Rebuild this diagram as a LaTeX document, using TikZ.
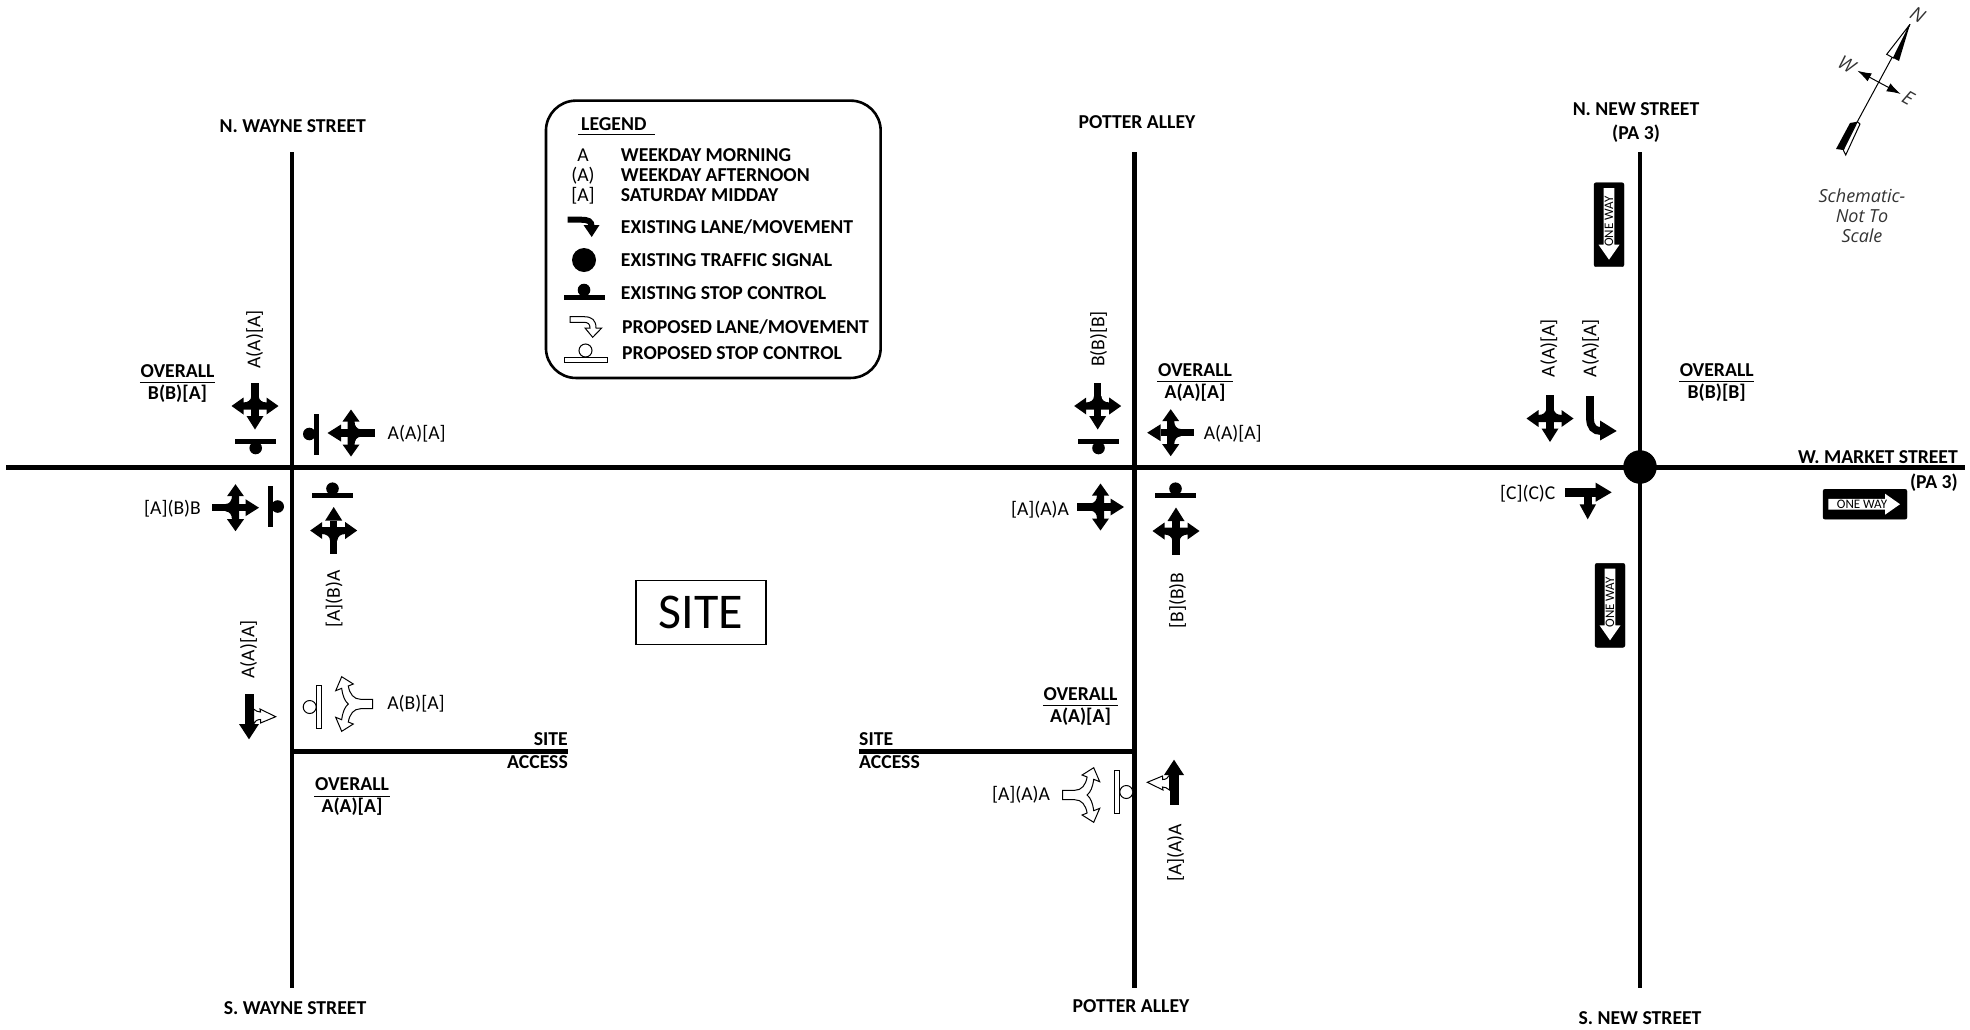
\documentclass[tikz,border=0pt]{standalone}
\usepackage{fontspec}
\setmainfont{Carlito}
\newfontfamily\schemfont{Open Sans}
\usepackage{tikz}
\usetikzlibrary{arrows.meta,positioning,shapes}

\newcommand{\overallbox}[4]{%
  \node[ovtop] (#1t) at (#2,#3-11) {OVERALL};
  \node[ovbot] (#1b) at (#2,#3+11) {#4};
  \draw[ovrule] ([yshift=-5pt]#1t.south west) -- ([yshift=-5pt]#1t.south east);
}

\tikzset{
  fourway/.pic={
    \fill (-3.7,-23.5) rectangle (3.7,10);
    \fill (-8.5,10) -- (8.5,10) -- (0,23.5) -- cycle;
    \fill (-23.5,0) -- (-11.5,-8.5) -- (-11.5,8.5) -- cycle;
    \fill (23.5,0) -- (11.5,-8.5) -- (11.5,8.5) -- cycle;
    \fill (-12,-3.5) .. controls (-7,-3.5) and (-3.7,-6) .. (-3.7,-10) -- (3.7,-10)
      .. controls (3.7,-6) and (7,-3.5) .. (12,-3.5) -- (12,3.5) -- (-12,3.5) -- cycle;
  },
  stopctl/.pic={
    \fill (-20.5,-2.5) rectangle (20.5,2.5);
    \fill (0,7) circle (6.3);
  },
  propstop/.pic={
    \draw[prop] (0,9.5) circle (6.5);
    \filldraw[prop] (-21.5,-2.5) rectangle (21.5,2.5);
  },
  propsplit/.pic={
    \filldraw[prop] (16,-4.7) -- (4,-4.7) .. controls (-3,-4.7) and (-7,-10) .. (-8.4,-18)
      -- (-3.4,-20) -- (-15,-27.3) -- (-21,-13.3) -- (-15,-15.7)
      .. controls (-14,-8) and (-12,-3) .. (-8.4,0)
      .. controls (-12,3) and (-14,8) .. (-15,15.7) -- (-21,13.3) -- (-15,27.3)
      -- (-3.4,20) -- (-8.4,18) .. controls (-7,10) and (-3,4.7) .. (4,4.7) -- (16,4.7) -- cycle;
  },
  thruprop/.pic={
    \filldraw[prop] (4.5,-7) .. controls (7,-5) and (9,-4) .. (11.5,-4) -- (11,-7)
      -- (26.7,0.7) -- (11.5,7) -- (11.5,3.5) .. controls (8,3.5) and (6,5) .. (4.5,8) -- cycle;
    \fill (-4.5,-22) rectangle (4.5,8);
    \fill (-10,8) -- (10,8) -- (0,23.3) -- cycle;
  },
  onewaysign/.pic={
    \filldraw[draw=black,fill=black,rounded corners=2pt] (-15,-42) rectangle (15,42);
    \fill[white] (-5.4,-36.7) -- (5.4,-36.7) -- (5.4,20) -- (10.5,20) -- (0,35) -- (-10.5,20) -- (-5.4,20) -- cycle;
    \node[signtext,rotate=#1] (-onew) at (0,-3) {ONE WAY};
  }
}

\begin{document}
\begin{tikzpicture}[
    x=1pt,y=-1pt,
    road/.style={line width=4.6pt},
    prop/.style={draw=black,fill=white,line width=1pt},
    lab/.style={inner sep=0,text height=12.6pt,text depth=0pt,font=\fontsize{19.6}{21}\selectfont},
    rlab/.style={lab,rotate=90},
    bold/.style={lab,font=\fontsize{19.7}{21}\selectfont\bfseries},
    legendtext/.style={bold,anchor=west},
    legendkey/.style={lab},
    ovtop/.style={bold,minimum width=75pt},
    ovbot/.style={bold},
    ovrule/.style={line width=1pt},
    signtext/.style={inner sep=0,font=\fontsize{13}{14}\selectfont},
    compasstext/.style={inner sep=0,font=\schemfont\itshape\fontsize{19}{21}\selectfont,text=black!80}
  ]
  \path[use as bounding box] (0,0) rectangle (1970,1029);

  %roads
  \coordinate (wayneN) at (292,152);
  \coordinate (wayneS) at (292,988);
  \coordinate (potterN) at (1134.7,152);
  \coordinate (potterS) at (1134.7,988);
  \coordinate (newN) at (1640,152);
  \coordinate (newS) at (1640,988);
  \coordinate (marketW) at (6,467.5);
  \coordinate (marketE) at (1965,467.5);
  \coordinate (accessL) at (568,751.7);
  \coordinate (accessR) at (859,751.7);
  \draw[road] (wayneN) -- (wayneS);
  \draw[road] (potterN) -- (potterS);
  \draw[road] (newN) -- (newS);
  \draw[road] (marketW) -- (marketE);
  \draw[road] (wayneS |- accessL) -- (accessL);
  \draw[road] (accessR) -- (potterS |- accessR);
  \node[circle,fill=black,minimum size=33.5pt,inner sep=0] (signal) at (1640,467) {};

  %street names
  \node[bold] (nwayne) at (292.7,126) {N. WAYNE STREET};
  \node[bold] (swayne) at (295,1008) {S. WAYNE STREET};
  \node[bold] (npotter) at (1137,122) {POTTER ALLEY};
  \node[bold] (spotter) at (1131,1006.5) {POTTER ALLEY};
  \node[bold] (nnew) at (1636,109.5) {N. NEW STREET};
  \node[bold] (nnewb) at (1636,133.5) {(PA 3)};
  \node[bold] (snew) at (1640,1018.5) {S. NEW STREET};
  \node[bold,anchor=east] (market) at (1958,457) {W. MARKET STREET};
  \node[bold,anchor=east] (marketb) at (1958,481.7) {(PA 3)};
  \node[bold,anchor=east] (siteL) at (568,739) {SITE};
  \node[bold,anchor=east] (accL) at (568,762) {ACCESS};
  \node[bold,anchor=west] (siteR) at (859,739) {SITE};
  \node[bold,anchor=west] (accR) at (859,762.5) {ACCESS};

  \node[draw,line width=1.3pt,minimum width=130pt,minimum height=64pt,inner sep=0,font=\fontsize{50}{52}\selectfont] (site) at (701,612.5) {SITE};

  %legend
  \node[draw,line width=2.6pt,rounded corners=30pt,minimum width=334.7pt,minimum height=277.3pt,inner sep=0] (legend) at (713.3,239.3) {};
  \node[bold,anchor=west] (lgdtitle) at (581,124) {LEGEND};
  \draw[line width=1.6pt] ([shift={(-3,4)}]lgdtitle.south west) -- ([shift={(8,4)}]lgdtitle.south east);
  \node[legendkey] (keya) at (583,155) {A};
  \node[legendkey] (keyb) at (583,175) {(A)};
  \node[legendkey] (keyc) at (583,195) {[A]};
  \node[legendtext] (lgdam) at (620.7,155) {WEEKDAY MORNING};
  \node[legendtext] (lgdpm) at (620.7,175) {WEEKDAY AFTERNOON};
  \node[legendtext] (lgdsat) at (620.7,195) {SATURDAY MIDDAY};
  \node[legendtext] (lgdlane) at (620.7,227) {EXISTING LANE/MOVEMENT};
  \node[legendtext] (lgdsig) at (620.7,260) {EXISTING TRAFFIC SIGNAL};
  \node[legendtext] (lgdstop) at (620.7,293) {EXISTING STOP CONTROL};
  \node[legendtext] (lgdplane) at (622,327) {PROPOSED LANE/MOVEMENT};
  \node[legendtext] (lgdpstop) at (622,353.5) {PROPOSED STOP CONTROL};
  \draw[line width=6pt] (567.7,219.7) -- (581,219.7) .. controls (588,219.7) and (591.7,221) .. (591.7,227);
  \fill (583.5,225) -- (599.5,225) -- (591.7,237) -- cycle;
  \fill (584,260) circle (12);
  \pic[rotate=180] at (584,297) {stopctl};
  \filldraw[prop] (570,316.7) -- (584,316.7) .. controls (592,316.7) and (596,320) .. (596,328)
    -- (601.7,328) -- (592.7,337.3) -- (585,328) -- (590,328) .. controls (590,324) and (588,322.3) .. (584,322.3)
    -- (570,322.3) -- cycle;
  \pic[rotate=180] at (585.5,360) {propstop};

  %n wayne intersection
  \pic at (255,406) {fourway};
  \pic[rotate=-90] at (351,433) {fourway};
  \pic[rotate=90] at (235.5,507.7) {fourway};
  \pic[rotate=180] at (333.7,530.5) {fourway};
  \pic at (255.7,441) {stopctl};
  \pic[rotate=-90] at (316.3,434) {stopctl};
  \pic[rotate=90] at (270.7,506.5) {stopctl};
  \pic[rotate=180] at (332.5,495.7) {stopctl};
  \node[rlab] (waynesb) at (254,339.5) {A(A)[A]};
  \node[lab] (waynewb) at (416.7,433) {A(A)[A]};
  \node[lab] (wayneeb) at (172.5,508) {[A](B)B};
  \node[rlab] (waynenb) at (333.5,599) {[A](B)A};
  \overallbox{ovwayne}{177.5}{381.7}{B(B)[A]}

  %potter intersection
  \pic at (1097.7,406) {fourway};
  \pic[rotate=-90] at (1170.7,432.7) {fourway};
  \pic[rotate=90] at (1100.5,507) {fourway};
  \pic[rotate=180] at (1176,531) {fourway};
  \pic at (1098.5,441) {stopctl};
  \pic[rotate=180] at (1175.5,495.7) {stopctl};
  \node[rlab] (pottersb) at (1098,339) {B(B)[B]};
  \node[lab] (potterwb) at (1232.7,432.7) {A(A)[A]};
  \node[lab] (pottereb) at (1040,509) {[A](A)A};
  \node[rlab] (potternb) at (1177,600.5) {[B](B)B};
  \overallbox{ovpotter}{1195}{381}{A(A)[A]}

  %new street intersection
  \pic at (1550,418.5) {fourway};
  \draw[line width=7.8pt] (1590,396) -- (1590,418) .. controls (1590,427) and (1594,431) .. (1601,431);
  \fill (1600,420.5) -- (1616.7,431) -- (1600,440.5) -- cycle;
  \fill (1565,488.2) rectangle (1596,496.5);
  \fill (1595.7,482.7) -- (1611.7,492.3) -- (1595.7,501.7) -- cycle;
  \fill (1584,495) rectangle (1591.6,505);
  \fill (1579.5,504.3) -- (1596,504.3) -- (1587.7,519.3) -- cycle;
  \node[rlab] (newsb) at (1548.3,348.3) {A(A)[A]};
  \node[rlab] (newsbr) at (1590,348.3) {A(A)[A]};
  \node[lab] (neweb) at (1527.7,493.3) {[C](C)C};
  \overallbox{ovnew}{1716.7}{380.7}{B(B)[B]}

  %one way signs
  \pic at (1609,224.7) {onewaysign=90};
  \pic at (1610,605.3) {onewaysign=90};
  \pic[rotate=90] at (1865,504.2) {onewaysign=0};

  %site access
  \pic at (249,716) {thruprop};
  \pic at (356.7,704) {propsplit};
  \pic[rotate=-90] at (319.2,707) {propstop};
  \node[rlab] (accesssb) at (248,649.5) {A(A)[A]};
  \node[lab] (accesswb) at (416,703.6) {A(B)[A]};
  \overallbox{ovaccl}{352}{795.5}{A(A)[A]}

  \pic[rotate=180] at (1174,783) {thruprop};
  \pic[rotate=180] at (1078.7,795) {propsplit};
  \pic[rotate=90] at (1116.8,792) {propstop};
  \node[rlab] (accessnb) at (1175,852.7) {[A](A)A};
  \node[lab] (accesseb) at (1021,794) {[A](A)A};
  \overallbox{ovaccr}{1080.5}{705}{A(A)[A]}

  %north arrow
  \coordinate (compassN) at (1910,24.3);
  \coordinate (compassS) at (1857.3,121.7);
  \coordinate (compassW) at (1857.3,70.7);
  \coordinate (compassE) at (1900.7,94);
  \draw[line width=1pt] (compassN) -- (compassS);
  \draw[line width=1pt,{Latex[length=14pt,width=9pt]}-{Latex[length=14pt,width=9pt]}] (compassW) -- (compassE);
  \filldraw[prop] (compassN) -- (1886.7,54.3) -- (1893.3,58) -- cycle;
  \fill (compassN) -- (1893.3,58) -- (1899,61) -- cycle;
  \fill (compassS) -- (1850,123) -- (1836,149) -- (1843.3,150) -- cycle;
  \filldraw[prop] (compassS) -- (1860,124) -- (1845.7,155) -- (1843.3,150) -- cycle;
  \node[compasstext,rotate=-29] (labn) at (1917.7,15) {N};
  \node[compasstext,rotate=-29] (labw) at (1846.7,64) {W};
  \node[compasstext,rotate=-29] (labe) at (1908.3,98.3) {E};
  \node[compasstext,align=center,font=\schemfont\itshape\fontsize{18}{20}\selectfont] (schem) at (1862,216) {Schematic-\\Not To\\Scale};
\end{tikzpicture}
\end{document}
